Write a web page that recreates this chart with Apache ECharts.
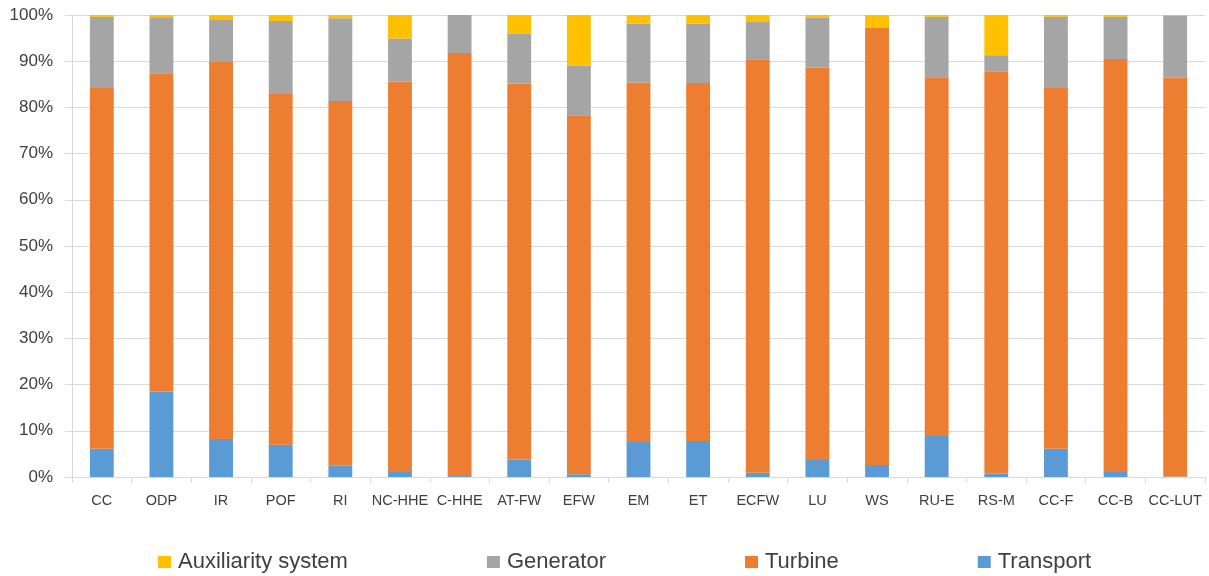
<!DOCTYPE html>
<html>
<head>
<meta charset="utf-8">
<script src="https://cdn.jsdelivr.net/npm/echarts@6/dist/echarts.min.js"></script>
<style>
  html, body { margin: 0; padding: 0; background: #fff; }
  #chart { width: 1209px; height: 576px; }
</style>
</head>
<body>
<div id="chart"></div>
<script>
// Share of each life-cycle stage per scenario (percent of total)
const categories = ['CC', 'ODP', 'IR', 'POF', 'RI', 'NC-HHE', 'C-HHE', 'AT-FW', 'EFW', 'EM',
                    'ET', 'ECFW', 'LU', 'WS', 'RU-E', 'RS-M', 'CC-F', 'CC-B', 'CC-LUT'];
const transport = [6.1, 18.5, 8.2, 7.0, 2.5, 1.1, 0.2, 3.8, 0.6, 7.6,
                   7.8, 0.9, 3.7, 2.6, 8.9, 0.7, 6.1, 1.1, 0.1];
const turbine   = [78.1, 68.9, 81.8, 75.9, 78.9, 84.5, 91.6, 81.3, 77.7, 77.8,
                   77.5, 89.5, 84.9, 94.7, 77.6, 87.0, 78.1, 89.4, 86.3];
const generator = [15.4, 12.1, 8.9, 15.8, 17.9, 9.3, 8.2, 10.9, 10.7, 12.7,
                   12.8, 8.1, 10.8, 0.0, 13.1, 3.6, 15.4, 9.1, 13.5];
const auxiliary = [0.4, 0.5, 1.1, 1.3, 0.7, 5.1, 0.0, 4.0, 11.0, 1.9,
                   1.9, 1.5, 0.6, 2.7, 0.4, 8.7, 0.4, 0.4, 0.1];
const yTicks = { min: 0, max: 100, interval: 10 };

const colors = {
  transport: '#5B9BD5',
  turbine: '#ED7D31',
  generator: '#A5A5A5',
  auxiliary: '#FFC000'
};

const chart = echarts.init(document.getElementById('chart'), null, { renderer: 'canvas' });

function stackSeries(name, data, color) {
  return {
    name: name,
    type: 'bar',
    stack: 'total',
    data: data,
    barWidth: '40%',
    itemStyle: { color: color },
    emphasis: { disabled: true }
  };
}

chart.setOption({
  animation: false,
  textStyle: { fontFamily: 'Liberation Sans' },
  grid: { left: 72, right: 4, top: 15, bottom: 99, containLabel: false },
  xAxis: {
    type: 'category',
    data: categories,
    axisLine: { show: true, lineStyle: { color: '#d9d9d9', width: 1 } },
    axisTick: { show: true, length: 6, lineStyle: { color: '#d9d9d9' } },
    axisLabel: { color: '#404040', fontSize: 14.5, margin: 16, interval: 0 }
  },
  yAxis: {
    type: 'value',
    min: yTicks.min,
    max: yTicks.max,
    interval: yTicks.interval,
    axisLine: { show: true, lineStyle: { color: '#d9d9d9' } },
    axisTick: { show: true, length: 7, lineStyle: { color: '#d9d9d9' } },
    splitLine: { show: true, lineStyle: { color: '#d9d9d9', width: 1 } },
    axisLabel: { color: '#404040', fontSize: 17, margin: 19, formatter: '{value}%' }
  },
  legend: {
    top: 546,
    left: 153,
    itemGap: 139,
    itemWidth: 13,
    itemHeight: 12,
    icon: 'rect',
    textStyle: { color: '#404040', fontSize: 22, padding: [0, 0, 0, 2] },
    data: ['Auxiliarity system', 'Generator', 'Turbine', 'Transport']
  },
  series: [
    stackSeries('Transport', transport, colors.transport),
    stackSeries('Turbine', turbine, colors.turbine),
    stackSeries('Generator', generator, colors.generator),
    stackSeries('Auxiliarity system', auxiliary, colors.auxiliary)
  ]
});
</script>
</body>
</html>
